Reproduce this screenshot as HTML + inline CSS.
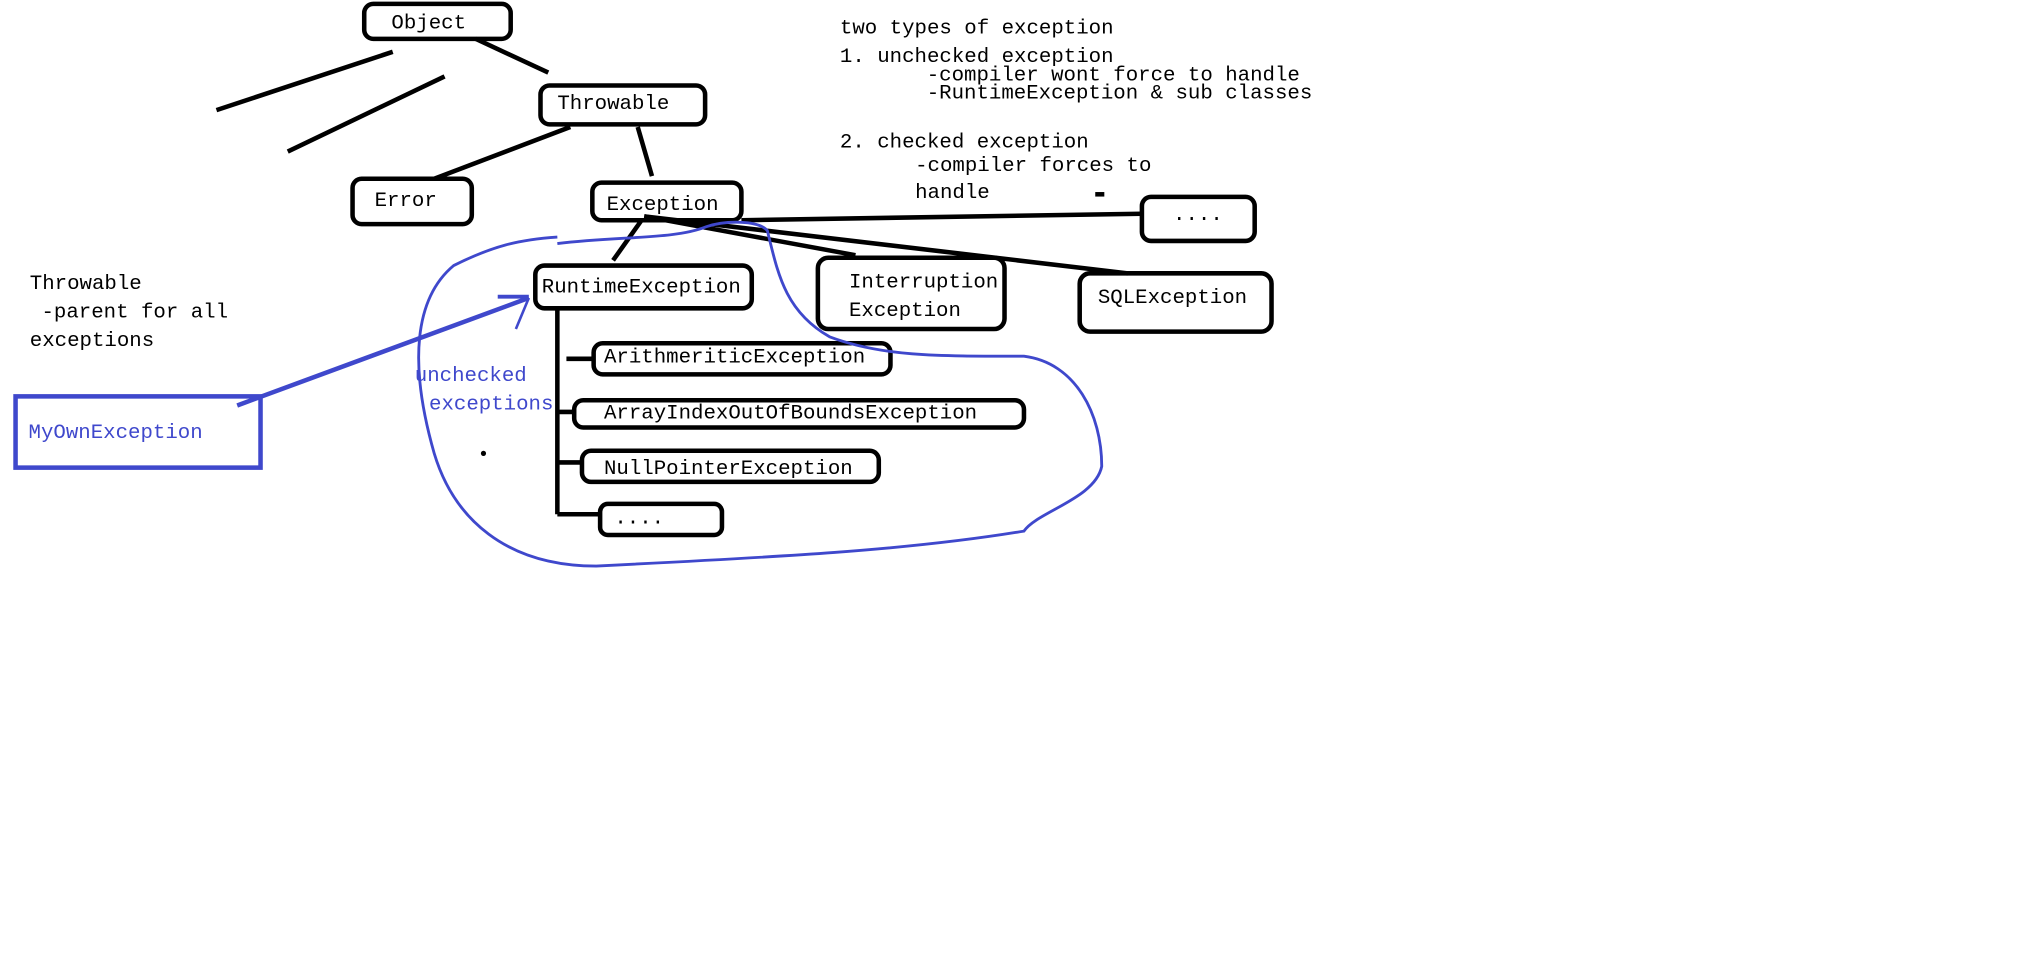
<!DOCTYPE html>
<html><head><meta charset="utf-8"><style>html,body{margin:0;padding:0;background:#fff;width:2022px;height:978px;overflow:hidden}</style></head>
<body>
<svg width="2022" height="978" viewBox="0 0 1560 755" preserveAspectRatio="none" xmlns="http://www.w3.org/2000/svg" font-family="Liberation Mono, monospace" font-size="16">
<g fill="none" stroke="#000" stroke-width="3.5">
<rect x="281" y="3" width="113" height="27" rx="7"/>
<rect x="417" y="66" width="127" height="30" rx="7"/>
<rect x="272" y="138" width="92" height="35" rx="7"/>
<rect x="457" y="141" width="115" height="29" rx="7"/>
<rect x="413" y="205" width="167" height="33" rx="7"/>
<rect x="631" y="199" width="144" height="55" rx="8"/>
<rect x="833" y="211" width="148" height="45" rx="8"/>
<rect x="881" y="152" width="87" height="34" rx="7"/>
<rect x="458" y="265" width="229" height="24" rx="7"/>
<rect x="443" y="309" width="347" height="21" rx="7"/>
<rect x="449" y="348" width="229" height="24" rx="7"/>
<rect x="463" y="389" width="94" height="24" rx="6"/>
<line x1="367" y1="30" x2="423" y2="56"/>
<line x1="167" y1="85" x2="303" y2="40"/>
<line x1="222" y1="117" x2="343" y2="59"/>
<line x1="440" y1="98" x2="335" y2="138"/>
<line x1="492" y1="98" x2="503" y2="136"/>
<line x1="495" y1="170" x2="473" y2="201"/>
<line x1="572" y1="170" x2="881" y2="165"/>
<line x1="497" y1="167" x2="660" y2="197"/>
<line x1="497" y1="167" x2="870" y2="211"/>
<line x1="430" y1="238" x2="430" y2="397"/>
<line x1="430" y1="397" x2="463" y2="397"/>
<line x1="437" y1="277" x2="458" y2="277"/>
<line x1="430" y1="318" x2="443" y2="318"/>
<line x1="430" y1="357" x2="449" y2="357"/>
<line x1="845" y1="150" x2="852" y2="150"/>
</g>
<circle cx="373" cy="350" r="2" fill="#000"/>
<g fill="none" stroke="#3f48cc">
<rect x="12" y="306" width="189" height="55" stroke-width="3.5"/>
<line x1="183" y1="313" x2="408" y2="230" stroke-width="3.5"/>
<line x1="384" y1="229" x2="408" y2="229" stroke-width="3"/>
<line x1="408" y1="230" x2="398" y2="254" stroke-width="2"/>
<path stroke-width="2.2" d="M430,188 C480,182 520,185 545,175 C560,170 585,170 592,178 C600,210 605,240 640,260 C680,275 720,275 790,275 C830,280 850,320 850,360 C845,385 800,395 790,410 C700,425 600,430 460,437 C390,437 350,400 335,350 C315,280 320,230 350,205 C380,190 400,185 430,183"/>
</g>
<g fill="#000">
<text x="302" y="22">Object</text>
<text x="430" y="84">Throwable</text>
<text x="289" y="159">Error</text>
<text x="468" y="162">Exception</text>
<text x="418" y="226">RuntimeException</text>
<text x="655" y="222">Interruption</text>
<text x="655" y="244">Exception</text>
<text x="847" y="234">SQLException</text>
<text x="905" y="170">....</text>
<text x="466" y="280">ArithmeriticException</text>
<text x="466" y="323">ArrayIndexOutOfBoundsException</text>
<text x="466" y="366">NullPointerException</text>
<text x="474" y="404">....</text>
<text x="23" y="223">Throwable</text>
<text x="32" y="245">-parent for all</text>
<text x="23" y="267">exceptions</text>
<text x="648" y="26">two types of exception</text>
<text x="648" y="48">1. unchecked exception</text>
<text x="715" y="62">-compiler wont force to handle</text>
<text x="715" y="76">-RuntimeException &amp; sub classes</text>
<text x="648" y="114">2. checked exception</text>
<text x="706" y="132">-compiler forces to</text>
<text x="706" y="153">handle</text>
</g>
<g fill="#3f48cc">
<text x="22" y="338">MyOwnException</text>
<text x="320" y="294">unchecked</text>
<text x="331" y="316">exceptions</text>
</g>
</svg>
</body></html>
